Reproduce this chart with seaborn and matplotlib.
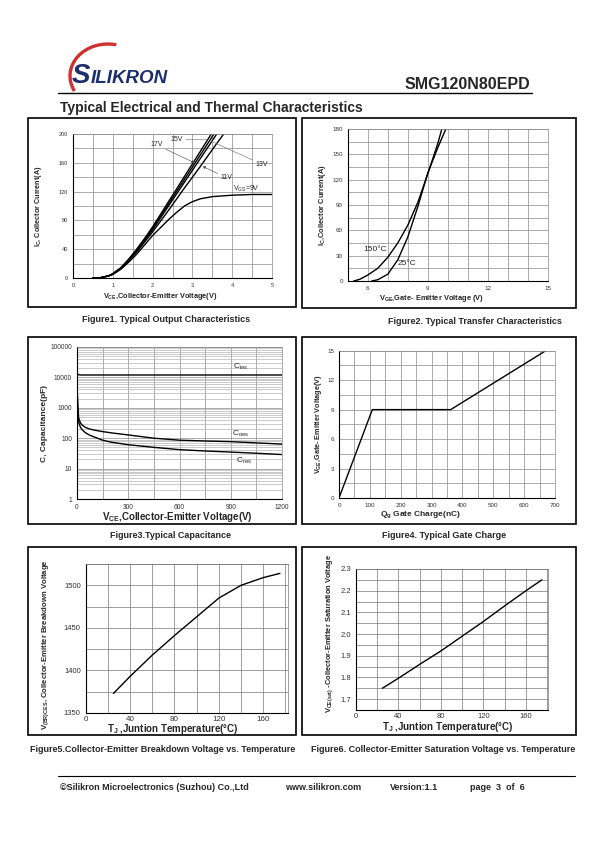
import numpy as np
import pandas as pd
import matplotlib
matplotlib.use("Agg")
import matplotlib.pyplot as plt
import seaborn as sns
from matplotlib.patches import Rectangle, Arc
from matplotlib.ticker import MultipleLocator, FixedLocator, FixedFormatter

# Figure 1: output characteristics (Vce in V, Ic in A)
vce_out = [0.5, 0.7, 0.9, 1.0, 1.2, 1.4, 1.6, 1.8, 2.0, 2.4, 2.8, 3.2, 3.6, 4.0]
ic_17v = [0, 0.5, 3, 6, 14, 26, 40, 55, 71, 106, 141, 176, 211, 246]
ic_15v = [0, 0.5, 3, 6, 14, 26, 39, 54, 69, 103, 137, 171, 205, 239]
ic_13v = [0, 0.5, 3, 5.5, 13, 25, 38, 52, 67, 100, 133, 166, 199, 232]
ic_11v = [0, 0.5, 3, 5.5, 13, 24, 36, 50, 64, 94, 125, 155, 186, 216]
vce_9v = [0.5, 0.7, 0.9, 1.0, 1.2, 1.4, 1.6, 1.8, 2.0, 2.2, 2.4, 2.6, 2.8, 3.0, 3.2, 3.5, 4.0, 4.5, 5.0]
ic_9v = [0, 0.5, 3, 5, 12, 22, 33, 46, 59, 70, 81, 91, 100, 106, 110, 113, 115, 116, 116]

# Figure 2: transfer characteristics (Vge in V, Ic in A)
vge_150 = [5.3, 5.6, 6.0, 6.5, 7.0, 7.5, 8.0, 8.5, 9.0, 9.5, 9.7]
ic_150 = [0, 2, 7, 15, 28, 45, 66, 93, 127, 163, 180]
vge_25 = [6.2, 6.5, 7.0, 7.5, 8.0, 8.5, 9.0, 9.5, 9.9]
ic_25 = [0, 1.5, 8, 25, 52, 88, 128, 158, 180]

# Figure 3: capacitance (Vce in V, C in pF)
vce_cap = [0, 2, 5, 10, 20, 30, 50, 75, 100, 150, 200, 300, 450, 600, 750, 900, 1050, 1200]
c_ies = [20000, 13500, 12500, 12200, 12000, 12000, 12000, 12000, 12000, 12000,
         12000, 12000, 12000, 12000, 12000, 12000, 12000, 12000]
c_oes = [20000, 3000, 1000, 450, 320, 270, 225, 200, 185, 165, 150, 128, 100, 86, 81, 77, 70, 64]
c_res = [18000, 2500, 800, 330, 230, 190, 150, 125, 110, 86, 74, 61, 50, 42, 38, 35, 32, 29]

# Figure 4: gate charge
qg = [0, 108, 362, 670]
vge_qg = [0, 9, 9, 15]

# Figure 5 / 6: temperature dependence
tj = [25, 40, 60, 80, 100, 120, 140, 160, 175]
v_br = [1373, 1393, 1418, 1441, 1463, 1485, 1500, 1509, 1514]
v_sat = [1.75, 1.796, 1.86, 1.922, 1.99, 2.058, 2.13, 2.2, 2.25]

sns.set_style("white")
plt.rcParams["font.family"] = ["Liberation Sans", "DejaVu Sans"]
plt.rcParams["mathtext.default"] = "regular"

W, H = 595, 842
fig = plt.figure(figsize=(W / 100, H / 100), dpi=100)
page = fig.add_axes([0, 0, 1, 1], zorder=0)
page.set_xlim(0, W)
page.set_ylim(H, 0)
page.axis("off")


def panel_axes(x0, y0, x1, y1):
    return fig.add_axes([x0 / W, 1 - y1 / H, (x1 - x0) / W, (y1 - y0) / H], zorder=2)


def style(ax, fs, grid_color="#8a8a8a"):
    ax.set_facecolor("white")
    ax.grid(True, which="both", color=grid_color, lw=0.5)
    ax.set_axisbelow(True)
    for side in ("top", "right"):
        ax.spines[side].set_color(grid_color)
        ax.spines[side].set_linewidth(0.5)
    for side in ("left", "bottom"):
        ax.spines[side].set_color("black")
        ax.spines[side].set_linewidth(0.8)
    ax.tick_params(which="major", labelsize=fs, length=2, width=0.5, pad=1.5,
                   labelcolor="#333333", color="black")
    ax.tick_params(which="minor", length=1.5, width=0.4, color="black")


def labels(ax, xlabel, ylabel, xfs, yfs, xpos, ypos):
    # positions are label centres in axes fraction
    ax.set_xlabel(xlabel, fontsize=xfs, fontweight="bold", va="center")
    ax.set_ylabel(ylabel, fontsize=yfs, fontweight="bold", va="center")
    ax.xaxis.set_label_coords(*xpos)
    ax.yaxis.set_label_coords(*ypos)


# ---- header ----
page.add_patch(Arc((108, 76), 76, 64, theta1=156, theta2=285, color="#d0302f", lw=2.4))
page.text(72, 83, "S", fontsize=20, fontweight="bold", fontstyle="italic", color="#1b2f6e")
page.text(91, 83, "ILIKRON", fontsize=13.5, fontweight="bold", fontstyle="italic", color="#1b2f6e")
page.text(530, 89, "SMG120N80EPD", fontsize=11.5, fontweight="bold", ha="right")
page.plot([58, 532], [93, 93], color="black", lw=1)
page.text(60, 112, "Typical Electrical and Thermal Characteristics", fontsize=10, fontweight="bold")

# ---- panel boxes ----
for (x0, y0, x1, y1) in [(28, 118, 296, 307), (302, 118, 576, 308),
                         (28, 337, 296, 524), (302, 337, 576, 524),
                         (28, 547, 296, 735), (302, 547, 576, 735)]:
    page.add_patch(Rectangle((x0, y0), x1 - x0, y1 - y0, fill=False, ec="black", lw=1.2))

# ---- Figure 1 ----
ax1 = panel_axes(73, 134, 272, 278)
df_out = pd.concat([
    pd.DataFrame({"vce": vce_out, "ic": ic_17v, "vge": "17V"}),
    pd.DataFrame({"vce": vce_out, "ic": ic_15v, "vge": "15V"}),
    pd.DataFrame({"vce": vce_out, "ic": ic_13v, "vge": "13V"}),
    pd.DataFrame({"vce": vce_out, "ic": ic_11v, "vge": "11V"}),
    pd.DataFrame({"vce": vce_9v, "ic": ic_9v, "vge": "9V"}),
])
sns.lineplot(data=df_out, x="vce", y="ic", hue="vge", palette=["black"] * 5,
             legend=False, lw=1.0, ax=ax1, estimator=None, sort=False)
ax1.set_xlim(0, 5)
ax1.set_ylim(0, 200)
ax1.xaxis.set_major_locator(MultipleLocator(1))
ax1.xaxis.set_minor_locator(MultipleLocator(0.5))
ax1.yaxis.set_major_locator(MultipleLocator(40))
ax1.yaxis.set_minor_locator(MultipleLocator(20))
style(ax1, 4)
labels(ax1, "V$_{CE}$,Collector-Emitter Voltage(V)", "I$_C$, Collector Current(A)",
       5.3, 5.2, (0.437, -0.125), (-0.175, 0.5))
arrow = dict(arrowstyle="-|>", lw=0.4, color="#444444", mutation_scale=4, shrinkA=0, shrinkB=0)
line = dict(arrowstyle="-", lw=0.4, color="#666666", shrinkA=0, shrinkB=0)
ax1.annotate("17V", xy=(3.05, 160), xytext=(2.1, 185), fontsize=5, ha="center", va="center", arrowprops=arrow)
ax1.annotate("15V", xy=(3.38, 192), xytext=(2.6, 193), fontsize=5, ha="center", va="center", arrowprops=line)
ax1.annotate("13V", xy=(3.47, 190), xytext=(4.75, 158), fontsize=5, ha="center", va="center", arrowprops=line)
ax1.annotate("11V", xy=(3.26, 155), xytext=(3.86, 139), fontsize=5, ha="center", va="center", arrowprops=arrow)
ax1.text(4.36, 124, "V$_{GS}$=9V", fontsize=5, ha="center", va="center")

# ---- Figure 2 ----
ax2 = panel_axes(347.7, 129, 548, 281)
sns.lineplot(x=vge_150, y=ic_150, color="black", lw=1.0, ax=ax2, estimator=None, sort=False)
sns.lineplot(x=vge_25, y=ic_25, color="black", lw=1.0, ax=ax2, estimator=None, sort=False)
ax2.set_xlim(5, 15)
ax2.set_ylim(0, 180)
ax2.xaxis.set_major_locator(FixedLocator([6, 9, 12, 15]))
ax2.xaxis.set_minor_locator(MultipleLocator(1))
ax2.yaxis.set_major_locator(MultipleLocator(30))
ax2.yaxis.set_minor_locator(MultipleLocator(15))
style(ax2, 4.5)
labels(ax2, "V$_{GE}$,Gate- Emitter Voltage (V)", "I$_C$,Collector Current(A)",
       5.4, 5.4, (0.42, -0.112), (-0.128, 0.5))
ax2.text(6.35, 37, "150°C", fontsize=6, ha="center", va="center")
ax2.text(7.98, 21, "25°C", fontsize=6, ha="center", va="center")

# ---- Figure 3 ----
ax3 = panel_axes(77, 347, 282, 499)
for c in (c_ies, c_oes, c_res):
    sns.lineplot(x=vce_cap, y=c, color="black", lw=1.0, ax=ax3, estimator=None, sort=False)
ax3.set_yscale("log")
ax3.set_xlim(0, 1200)
ax3.set_ylim(1, 100000)
ax3.xaxis.set_major_locator(MultipleLocator(300))
ax3.xaxis.set_minor_locator(MultipleLocator(150))
ax3.yaxis.set_major_locator(FixedLocator([1, 10, 100, 1000, 10000, 100000]))
ax3.yaxis.set_major_formatter(FixedFormatter(["1", "10", "100", "1000", "10000", "100000"]))
style(ax3, 4.8)
ax3.grid(True, which="minor", axis="y", color="#b5b5b5", lw=0.5)
labels(ax3, "V$_{CE}$,Collector-Emitter Voltage(V)", "C, Capacitance(pF)",
       7, 6, (0.49, -0.118), (-0.16, 0.5))
ax3.text(960, 21500, "C$_{ies}$", fontsize=6, ha="center", va="center")
ax3.text(960, 135, "C$_{oes}$", fontsize=6, ha="center", va="center")
ax3.text(975, 18.6, "C$_{res}$", fontsize=6, ha="center", va="center")

# ---- Figure 4 ----
ax4 = panel_axes(339, 350.7, 555, 498)
sns.lineplot(x=qg, y=vge_qg, color="black", lw=1.0, ax=ax4, estimator=None, sort=False)
ax4.set_xlim(0, 700)
ax4.set_ylim(0, 15)
ax4.xaxis.set_major_locator(MultipleLocator(100))
ax4.xaxis.set_minor_locator(MultipleLocator(50))
ax4.yaxis.set_major_locator(MultipleLocator(3))
ax4.yaxis.set_minor_locator(MultipleLocator(1.5))
style(ax4, 4.5)
labels(ax4, "Q$_g$ Gate Charge(nC)", "V$_{GE}$,Gate- Emitter Voltage(V)",
       6, 5.2, (0.375, -0.11), (-0.097, 0.5))

# ---- Figure 5 ----
ax5 = panel_axes(85.7, 564, 287.7, 713)
sns.lineplot(x=tj, y=v_br, color="black", lw=1.0, ax=ax5, estimator=None, sort=False)
ax5.set_xlim(0, 182)
ax5.set_ylim(1350, 1525)
ax5.xaxis.set_major_locator(FixedLocator([0, 40, 80, 120, 160]))
ax5.xaxis.set_minor_locator(MultipleLocator(20))
ax5.yaxis.set_major_locator(MultipleLocator(50))
ax5.yaxis.set_minor_locator(MultipleLocator(25))
style(ax5, 5.5, grid_color="#777777")
ax5.tick_params(axis="x", labelsize=5.8, pad=0.3)
labels(ax5, "T$_J$ ,Juntion Temperature(°C)", "V$_{(BR)CES}$, Collector-Emitter Breakdown Voltage",
       7, 5.6, (0.43, -0.11), (-0.197, 0.46))

# ---- Figure 6 ----
ax6 = panel_axes(355.7, 569, 548.3, 710)
sns.lineplot(x=tj, y=v_sat, color="black", lw=1.0, ax=ax6, estimator=None, sort=False)
ax6.set_xlim(0, 181)
ax6.set_ylim(1.65, 2.3)
ax6.xaxis.set_major_locator(FixedLocator([0, 40, 80, 120, 160]))
ax6.xaxis.set_minor_locator(MultipleLocator(20))
ax6.yaxis.set_major_locator(FixedLocator([1.7, 1.8, 1.9, 2.0, 2.1, 2.2, 2.3]))
ax6.yaxis.set_major_formatter(FixedFormatter(["1.7", "1.8", "1.9", "2.0", "2.1", "2.2", "2.3"]))
ax6.yaxis.set_minor_locator(MultipleLocator(0.05))
style(ax6, 5.5, grid_color="#777777")
ax6.tick_params(axis="x", pad=0.3)
labels(ax6, "T$_J$ ,Juntion Temperature(°C)", "V$_{CE(sat)}$ -Collector-Emitter Saturation Voltage",
       7, 5.4, (0.48, -0.118), (-0.133, 0.54))

# ---- captions ----
cap = dict(fontsize=6.5, fontweight="bold", ha="center", va="center")
page.text(166, 320, "Figure1. Typical Output Characteristics", **cap)
page.text(475, 321, "Figure2. Typical Transfer Characteristics", **cap)
page.text(170, 535, "Figure3.Typical Capacitance", **cap)
page.text(444, 536, "Figure4. Typical Gate Charge", **cap)
page.text(163, 750, "Figure5.Collector-Emitter Breakdown Voltage vs. Temperature", **cap)
page.text(443, 750, "Figure6. Collector-Emitter Saturation Voltage vs. Temperature", **cap)

# ---- footer ----
page.plot([58, 575], [776, 776], color="black", lw=0.8)
foot = dict(fontsize=6.5, fontweight="bold", va="center")
page.text(60, 787, "©Silikron Microelectronics (Suzhou) Co.,Ltd", **foot)
page.text(285, 787, "www.silikron.com", **foot)
page.text(390, 787, "Version:1.1", **foot)
page.text(470, 787, "page  3  of  6", **foot)

fig.savefig("out.png", dpi=100)
